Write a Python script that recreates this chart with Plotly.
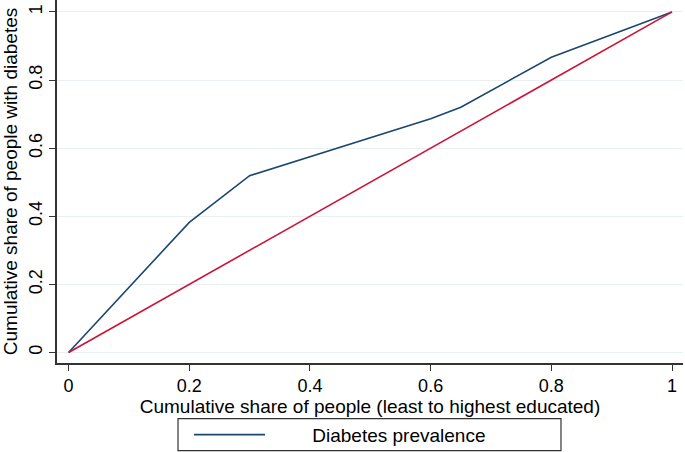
import plotly.graph_objects as go

# concentration curve
share_people = [0, 0.2, 0.3, 0.6, 0.65, 0.8, 1]
share_diabetes = [0, 0.382, 0.519, 0.686, 0.72, 0.867, 1]
equality_x = [0, 1]
equality_y = [0, 1]
tick_vals = [0, 0.2, 0.4, 0.6, 0.8, 1]
tick_text = ["0", "0.2", "0.4", "0.6", "0.8", "1"]

fig = go.Figure()
fig.add_trace(go.Scatter(x=share_people, y=share_diabetes, mode="lines",
                         name="\u00a0" * 8 + "Diabetes prevalence",
                         line=dict(color="#1a476f", width=1.6)))
fig.add_trace(go.Scatter(x=equality_x, y=equality_y, mode="lines",
                         showlegend=False,
                         line=dict(color="#cc1236", width=1.6)))

# frame around the legend (plotly's own border box is too tall at this font size)
fig.add_shape(type="rect", xref="paper", yref="paper",
              x0=0.1933, x1=0.8051, y0=-0.2414, y1=-0.1533,
              line=dict(color="#333333", width=1.2))

fig.update_layout(
    width=685, height=452,
    margin=dict(l=57, r=2, t=0, b=89, autoexpand=False),
    plot_bgcolor="white", paper_bgcolor="white",
    font=dict(family="Liberation Sans, Arial", size=16, color="black"),
    xaxis=dict(
        range=[-0.0192, 1.0182], tickvals=tick_vals, ticktext=tick_text,
        showgrid=False, zeroline=False, automargin=False,
        showline=True, linecolor="#333333", linewidth=1.5,
        ticks="outside", ticklen=6, tickcolor="#333333",
        tickfont=dict(size=18),
        title=dict(text="Cumulative share of people (least to highest educated)",
                   standoff=0),
    ),
    yaxis=dict(
        range=[-0.031, 1.035], tickvals=tick_vals, ticktext=tick_text,
        tickangle=-90, automargin=False,
        showgrid=True, gridcolor="#e8f0f2", gridwidth=1, zeroline=False,
        showline=True, linecolor="#333333", linewidth=1.5,
        ticks="outside", ticklen=6, tickcolor="#333333",
        tickfont=dict(size=18),
        title=dict(text="Cumulative share of people with diabetes", standoff=4),
    ),
    legend=dict(
        x=0.2109, xanchor="left", y=-0.1455, yanchor="top",
        borderwidth=0, bgcolor="rgba(0,0,0,0)", itemwidth=71,
        font=dict(size=19),
    ),
)

# drop the page's default body margin so the figure sits at the window corner
fig.write_html("out.html", config={"displayModeBar": False},
               post_script="document.body.style.margin='0';")
